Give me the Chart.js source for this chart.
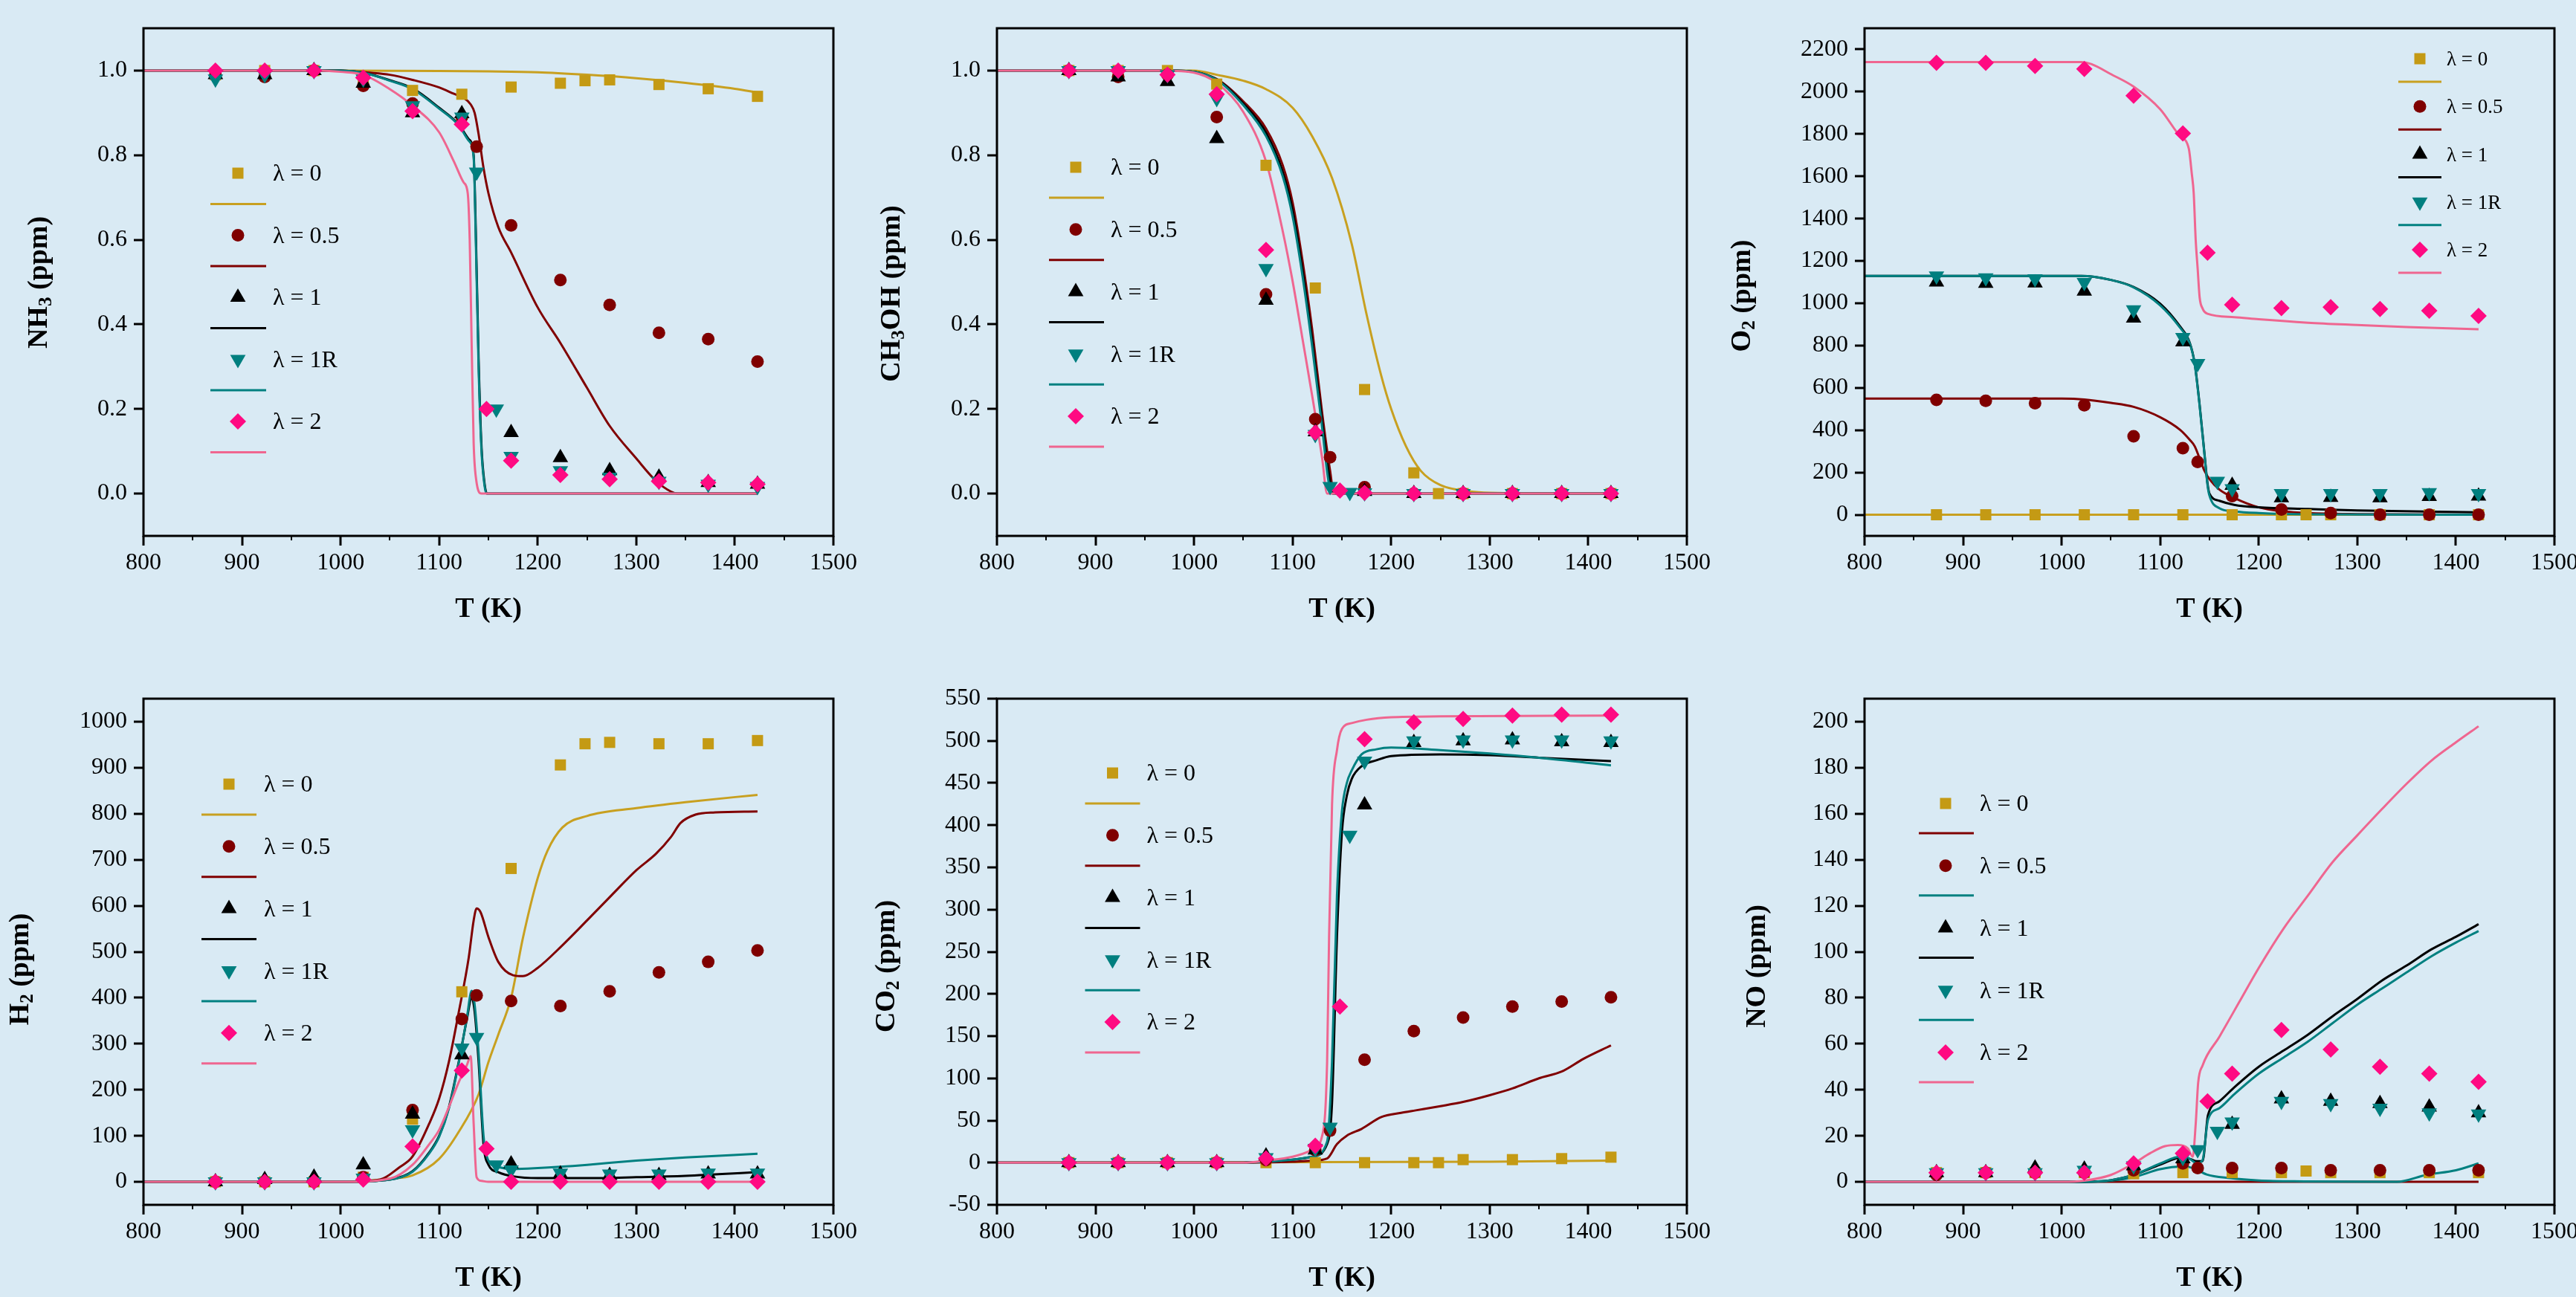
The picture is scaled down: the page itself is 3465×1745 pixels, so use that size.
<!DOCTYPE html>
<html><head><meta charset="utf-8">
<script src="https://cdn.jsdelivr.net/npm/chart.js@4.4.1/dist/chart.umd.min.js"></script>
<style>
html,body{margin:0;padding:0;background:#D9EAF4;width:3465px;height:1745px;overflow:hidden}
.p{position:absolute}
canvas{display:block}
</style></head><body>
<div class="p" style="left:0px;top:0px"><canvas id="c1" width="1161" height="851"></canvas></div>
<div class="p" style="left:1148px;top:0px"><canvas id="c2" width="1161" height="851"></canvas></div>
<div class="p" style="left:2315px;top:0px"><canvas id="c3" width="1161" height="851"></canvas></div>
<div class="p" style="left:0px;top:902px"><canvas id="c4" width="1161" height="849"></canvas></div>
<div class="p" style="left:1148px;top:902px"><canvas id="c5" width="1161" height="849"></canvas></div>
<div class="p" style="left:2315px;top:902px"><canvas id="c6" width="1161" height="849"></canvas></div>
<script>
// ---------------- DATA ----------------
const n = null;
const SERIES = ['λ = 0', 'λ = 0.5', 'λ = 1', 'λ = 1R', 'λ = 2'];
const T_EXP = [873, 923, 973, 1023, 1073, 1123, 1138, 1148, 1158, 1173, 1223, 1248, 1273, 1323, 1373, 1423];
const X_TICKS = [800, 900, 1000, 1100, 1200, 1300, 1400, 1500];

// NH3
const NH3_Y_TICKS = [0, 0.2, 0.4, 0.6, 0.8, 1.0];
const NH3_S0  = [0.99, 1.0, 1.0, 0.97, 0.953, 0.944, n, n, n, 0.961, 0.970, 0.976, 0.978, 0.967, 0.957, 0.939];
const NH3_S05 = [0.99, 0.985, 1.0, 0.964, 0.922, 0.89, 0.82, n, n, 0.634, 0.505, n, 0.446, 0.38, 0.365, 0.312];
const NH3_S1  = [0.99, 0.99, 1.0, 0.97, 0.90, 0.898, n, n, n, 0.144, 0.085, n, 0.054, 0.039, 0.026, 0.022];
const NH3_S1R = [0.98, 0.99, 1.0, 0.98, 0.917, 0.89, 0.76, n, 0.2, 0.088, 0.054, n, 0.039, 0.029, 0.022, 0.017];
const NH3_S2  = [1.0, 1.0, 1.0, 0.983, 0.904, 0.873, n, 0.2, n, 0.078, 0.044, n, 0.034, 0.029, 0.026, 0.022];
const NH3_L0_T  = [800, 1000, 1100, 1150, 1200, 1250, 1300, 1350, 1400, 1423];
const NH3_L0    = [1, 1, 0.999, 0.998, 0.996, 0.99, 0.982, 0.971, 0.957, 0.948];
const NH3_L05_T = [800, 1000, 1030, 1050, 1073, 1100, 1115, 1125, 1132, 1136, 1140, 1145, 1150, 1160, 1173, 1200, 1223, 1250, 1273, 1300, 1320, 1335, 1342, 1423];
const NH3_L05   = [1, 1, 0.995, 0.99, 0.978, 0.96, 0.945, 0.935, 0.92, 0.90, 0.85, 0.77, 0.71, 0.63, 0.57, 0.44, 0.356, 0.25, 0.16, 0.083, 0.03, 0.005, 0, 0];
const NH3_L1_T  = [800, 1000, 1023, 1050, 1073, 1100, 1120, 1130, 1135, 1137, 1140, 1143, 1146, 1148.5, 1423];
const NH3_L1    = [1, 1, 0.995, 0.977, 0.958, 0.912, 0.872, 0.838, 0.80, 0.64, 0.32, 0.11, 0.025, 0, 0];
const NH3_L1R_T = [800, 1000, 1023, 1050, 1073, 1100, 1120, 1130, 1135, 1137, 1140, 1143, 1146, 1148, 1423];
const NH3_L1R   = [1, 1, 0.995, 0.976, 0.956, 0.91, 0.87, 0.834, 0.795, 0.62, 0.3, 0.1, 0.02, 0, 0];
const NH3_L2_T  = [800, 980, 1000, 1023, 1050, 1073, 1100, 1115, 1125, 1129, 1131, 1133, 1135, 1137.5, 1143, 1423];
const NH3_L2    = [1, 1, 0.997, 0.99, 0.956, 0.917, 0.854, 0.785, 0.735, 0.71, 0.6, 0.35, 0.12, 0.034, 0, 0];

// CH3OH
const MEOH_Y_TICKS = [0, 0.2, 0.4, 0.6, 0.8, 1.0];
const MEOH_S0  = [1.0, 1.0, 1.0, 0.968, 0.776, 0.486, n, n, n, 0.246, 0.049, 0.0, 0.0, 0, 0, 0];
const MEOH_S05 = [1.0, 0.985, 0.99, 0.89, 0.471, 0.176, 0.086, n, n, 0.015, 0, n, 0, 0, 0, 0];
const MEOH_S1  = [1.0, 0.985, 0.974, 0.839, 0.457, 0.146, n, n, n, 0.005, 0, n, 0, 0, 0, 0];
const MEOH_S1R = [1.0, 1.0, 0.99, 0.934, 0.532, 0.14, 0.017, n, 0.003, 0.002, 0, n, 0, 0, 0, 0];
const MEOH_S2  = [1.0, 1.0, 0.99, 0.944, 0.576, 0.144, n, 0.007, n, 0.002, 0, n, 0, 0, 0, 0];
const MEOH_L0_T  = [800, 1000, 1023, 1050, 1073, 1100, 1120, 1140, 1160, 1175, 1190, 1200, 1215, 1230, 1250, 1280, 1300, 1423];
const MEOH_L0    = [1, 1, 0.99, 0.976, 0.956, 0.912, 0.844, 0.746, 0.59, 0.424, 0.278, 0.2, 0.112, 0.054, 0.02, 0.005, 0.002, 0];
const MEOH_L05_T = [800, 980, 1023, 1050, 1073, 1090, 1100, 1110, 1120, 1130, 1138, 1142, 1423];
const MEOH_L05   = [1, 1, 0.98, 0.927, 0.863, 0.776, 0.688, 0.551, 0.385, 0.19, 0.054, 0, 0];
const MEOH_L1_T  = [800, 980, 1023, 1050, 1073, 1090, 1100, 1110, 1120, 1130, 1137, 1141, 1423];
const MEOH_L1    = [1, 1, 0.979, 0.922, 0.853, 0.76, 0.67, 0.53, 0.36, 0.17, 0.045, 0, 0];
const MEOH_L1R_T = [800, 980, 1023, 1050, 1073, 1090, 1100, 1110, 1120, 1130, 1136, 1140, 1423];
const MEOH_L1R   = [1, 1, 0.978, 0.918, 0.845, 0.75, 0.655, 0.515, 0.345, 0.155, 0.035, 0, 0];
const MEOH_L2_T  = [800, 970, 1000, 1023, 1050, 1073, 1090, 1100, 1110, 1120, 1130, 1135, 1423];
const MEOH_L2    = [1, 1, 0.995, 0.971, 0.902, 0.785, 0.62, 0.502, 0.366, 0.229, 0.083, 0, 0];

// O2
const O2_Y_TICKS = [0, 200, 400, 600, 800, 1000, 1200, 1400, 1600, 1800, 2000, 2200];
const O2_S0  = [0, 0, 0, 0, 0, 0, n, n, n, 0, 0, 0, 0, 0, 0, 0];
const O2_S05 = [543, 539, 527, 518, 371, 315, 250, n, n, 88, 25, n, 8, 0, 0, 0];
const O2_S1  = [1100, 1094, 1096, 1057, 930, 817, n, n, n, 139, 80, n, 82, 80, 86, 88];
const O2_S1R = [1129, 1120, 1116, 1098, 969, 838, 715, n, 158, 123, 100, n, 100, 100, 105, 100];
const O2_S2  = [2137, 2137, 2122, 2108, 1981, 1803, n, 1239, n, 993, 977, n, 981, 973, 965, 940];
const O2_L0_T  = [800, 1423];
const O2_L0    = [0, 0];
const O2_L05_T = [800, 1000, 1023, 1050, 1073, 1100, 1120, 1130, 1135, 1140, 1145, 1150, 1160, 1175, 1200, 1225, 1250, 1300, 1423];
const O2_L05   = [549, 549, 545, 529, 510, 461, 402, 354, 324, 266, 207, 168, 119, 80, 35, 16, 8, 3, 0];
const O2_L1_T  = [800, 1020, 1050, 1073, 1100, 1120, 1130, 1135, 1140, 1145, 1148, 1150, 1160, 1175, 1200, 1250, 1300, 1423];
const O2_L1    = [1129, 1129, 1110, 1077, 998, 891, 813, 715, 520, 285, 148, 100, 66, 47, 35, 27, 20, 12];
const O2_L1R_T = [800, 1020, 1050, 1073, 1100, 1120, 1130, 1135, 1140, 1145, 1148, 1150, 1160, 1175, 1200, 1250, 1423];
const O2_L1R   = [1129, 1129, 1110, 1075, 990, 885, 810, 712, 515, 280, 140, 90, 31, 16, 8, 2, 0];
const O2_L2_T  = [800, 1020, 1030, 1050, 1073, 1100, 1120, 1129, 1132, 1134, 1136, 1138, 1140, 1143, 1148, 1175, 1200, 1250, 1300, 1350, 1423];
const O2_L2    = [2140, 2140, 2131, 2083, 2024, 1917, 1790, 1731, 1614, 1520, 1300, 1164, 1028, 975, 950, 934, 924, 908, 897, 887, 877];

// H2
const H2_Y_TICKS = [0, 100, 200, 300, 400, 500, 600, 700, 800, 900, 1000];
const H2_S0  = [0, 0, 0, 10, 136, 413, n, n, n, 681, 906, 952, 955, 952, 952, 959];
const H2_S05 = [0, 0, 0, 10, 156, 354, 405, n, n, 393, 382, n, 414, 455, 478, 503];
const H2_S1  = [0, 5, 10, 37, 147, 276, n, n, n, 39, 17, n, 14, 14, 17, 17];
const H2_S1R = [0, 0, 0, 8, 113, 291, 314, n, 37, 26, 19, n, 17, 17, 19, 19];
const H2_S2  = [0, 0, 0, 5, 77, 242, n, 72, n, 0, 0, n, 0, 0, 0, 0];
const H2_L0_T  = [800, 1000, 1050, 1073, 1100, 1120, 1140, 1150, 1160, 1173, 1185, 1200, 1210, 1225, 1250, 1300, 1350, 1423];
const H2_L0    = [0, 0, 7, 14, 50, 109, 190, 260, 320, 400, 530, 660, 720, 770, 795, 812, 825, 841];
const H2_L05_T = [800, 1000, 1040, 1060, 1073, 1090, 1100, 1110, 1120, 1130, 1135, 1138, 1142, 1150, 1160, 1175, 1185, 1200, 1225, 1250, 1275, 1300, 1320, 1335, 1345, 1360, 1380, 1423];
const H2_L05   = [0, 0, 5, 32, 55, 127, 181, 262, 370, 487, 568, 594, 586, 532, 478, 449, 447, 465, 514, 568, 623, 677, 713, 749, 780, 798, 803, 805];
const H2_L1_T  = [800, 1000, 1050, 1073, 1090, 1100, 1110, 1120, 1128, 1133, 1136, 1140, 1145, 1150, 1160, 1175, 1200, 1250, 1300, 1350, 1423];
const H2_L1    = [0, 0, 5, 23, 64, 100, 163, 262, 352, 400, 370, 262, 82, 37, 21, 12, 8, 8, 10, 13, 21];
const H2_L1R_T = [800, 1000, 1050, 1073, 1090, 1100, 1110, 1120, 1128, 1133, 1136, 1140, 1145, 1150, 1160, 1175, 1200, 1250, 1300, 1350, 1423];
const H2_L1R   = [0, 0, 5, 22, 62, 98, 160, 260, 355, 415, 385, 280, 100, 46, 32, 28, 30, 37, 46, 53, 61];
const H2_L2_T  = [800, 1000, 1050, 1073, 1090, 1100, 1110, 1120, 1128, 1132, 1135, 1138, 1143, 1150, 1423];
const H2_L2    = [0, 0, 7, 37, 82, 113, 163, 217, 253, 273, 127, 10, 2, 0, 0];

// CO2
const CO2_Y_TICKS = [-50, 0, 50, 100, 150, 200, 250, 300, 350, 400, 450, 500, 550];
const CO2_S0  = [0, 0, 0, 0, 0, 0, n, n, n, 0, 0, 0, 3.6, 3.6, 4.8, 6.5];
const CO2_S05 = [0, 0, 0, 0, 3, 15, 38, n, n, 122, 156, n, 172, 185, 191, 196];
const CO2_S1  = [0, 0, 0, 0, 8, 15, n, n, n, 424, 498, n, 500, 501, 499, 498];
const CO2_S1R = [0, 0, 0, 0, 6, 17, 42, n, 388, 476, 500, n, 501, 501, 501, 500];
const CO2_S2  = [0, 0, 0, 0, 5, 20, n, 185, n, 502, 522, n, 526, 530, 531, 531];
const CO2_L0_T  = [800, 1300, 1423];
const CO2_L0    = [0, 1, 2.5];
const CO2_L05_T = [800, 1050, 1100, 1120, 1135, 1145, 1155, 1170, 1190, 1210, 1225, 1250, 1273, 1300, 1323, 1350, 1373, 1395, 1423];
const CO2_L05   = [0, 0, 1, 2.5, 5, 22, 32, 40, 54, 59, 62, 67, 72, 80, 88, 100, 108, 123, 139];
const CO2_L1_T  = [800, 1050, 1073, 1100, 1120, 1135, 1140, 1145, 1150, 1155, 1160, 1170, 1185, 1200, 1250, 1300, 1350, 1423];
const CO2_L1    = [0, 0, 1, 3.5, 7, 22, 71, 268, 391, 435, 455, 470, 477, 482, 484, 483, 480, 476];
const CO2_L1R_T = [800, 1050, 1073, 1100, 1120, 1135, 1140, 1145, 1150, 1155, 1160, 1170, 1185, 1200, 1250, 1300, 1350, 1423];
const CO2_L1R   = [0, 0, 1, 3.5, 7, 25, 120, 317, 416, 450, 465, 484, 490, 492, 489, 485, 480, 471];
const CO2_L2_T  = [800, 1050, 1073, 1100, 1120, 1130, 1135, 1137, 1140, 1145, 1150, 1160, 1175, 1200, 1250, 1423];
const CO2_L2    = [0, 0, 2.5, 7, 15, 32, 120, 268, 425, 489, 514, 521, 525, 528, 529, 530];

// NO
const NO_Y_TICKS = [0, 20, 40, 60, 80, 100, 120, 140, 160, 180, 200];
const NO_S0  = [4, 4, 4, 4, 3.5, 4, n, n, n, 4, 4, 4.7, 4, 4, 4, 4];
const NO_S05 = [3, 4, 4, 4, 5, 8, 6, n, n, 6, 6, n, 5, 5, 5, 5];
const NO_S1  = [4, 4, 6, 5.5, 7, 10, n, n, n, 25, 36, n, 35, 34, 32.5, 30];
const NO_S1R = [4, 4, 4, 5, 7, 10.6, 14, n, 22, 26, 35, n, 34, 32, 30, 29.5];
const NO_S2  = [4, 4, 4, 4, 8, 12.4, n, 35, n, 47, 66, n, 57.5, 50, 47, 43.5];
const NO_L0_T  = [800, 1423];
const NO_L0    = [0, 0];
const NO_L05_T = [800, 1020, 1050, 1073, 1100, 1123, 1135, 1147, 1171, 1200, 1246, 1340, 1370, 1400, 1423];
const NO_L05   = [0, 0, 0.5, 2, 5.5, 6.6, 5.8, 3.2, 1.6, 0.6, 0.2, 0, 3, 5, 8];
const NO_L1_T  = [800, 1020, 1050, 1073, 1100, 1121, 1130, 1137, 1143, 1148.5, 1160, 1175, 1200, 1225, 1250, 1275, 1300, 1325, 1350, 1375, 1400, 1423];
const NO_L1    = [0, 0, 0.7, 3, 7.5, 10.5, 10, 9, 9, 29, 35, 41, 50, 57, 64, 72, 79.5, 87.5, 94, 101, 106.5, 112];
const NO_L1R_T = [800, 1020, 1050, 1073, 1100, 1121, 1130, 1137, 1143, 1148.5, 1160, 1175, 1200, 1225, 1250, 1275, 1300, 1325, 1350, 1375, 1400, 1423];
const NO_L1R   = [0, 0, 0.7, 3, 8, 11, 10, 8, 9.5, 27, 32, 38, 47, 54, 61, 69, 77, 84, 91, 98, 104, 109];
const NO_L2_T  = [800, 1000, 1023, 1050, 1073, 1090, 1105, 1118, 1128, 1133, 1136, 1138.5, 1143, 1160, 1180, 1200, 1225, 1250, 1275, 1300, 1325, 1350, 1375, 1400, 1423];
const NO_L2    = [0, 0, 0.5, 3, 8, 12.5, 15.5, 16, 14.5, 10.9, 25, 43, 50.6, 63, 78, 93, 110, 124.5, 139, 150.6, 162, 173, 183, 191, 198];

// ---------------- STYLE ----------------
const GOLD = '#C49A14', DRED = '#7F0000', BLACK = '#000000', TEAL = '#007F7F', PINK = '#FF0A82';
const LGOLD = '#C8A020', LDRED = '#800000', LTEAL = '#008080', LPINK = '#EF6690';
const MARKER_COLORS = [GOLD, DRED, BLACK, TEAL, PINK];
const MARKERS = [
  {pointStyle: 'rect', radius: 10.6, rotation: 0},
  {pointStyle: 'circle', radius: 8.5, rotation: 0},
  {pointStyle: 'triangle', radius: 12, rotation: 0},
  {pointStyle: 'triangle', radius: 12, rotation: 180},
  {pointStyle: 'rectRot', radius: 11, rotation: 0}
];
const LINE_STD = [LGOLD, LDRED, BLACK, LTEAL, LPINK];
const LINE_NO = [LDRED, LTEAL, BLACK, LTEAL, LPINK];
const SERIF = '"Liberation Serif", "Times New Roman", serif';

function pts(xs, ys) {
  const out = [];
  for (let i = 0; i < xs.length; i++) if (ys[i] !== null) out.push({x: xs[i], y: ys[i]});
  return out;
}

const decor = {
  id: 'decor',
  afterDraw(chart, args, o) {
    const ctx = chart.ctx, a = chart.chartArea, xs = chart.scales.x;
    ctx.save();
    ctx.strokeStyle = '#000';
    ctx.lineWidth = 2;
    for (let v = 850; v < 1500; v += 100) {
      const px = Math.round(xs.getPixelForValue(v));
      ctx.beginPath(); ctx.moveTo(px, a.bottom); ctx.lineTo(px, a.bottom + 6); ctx.stroke();
    }
    ctx.lineWidth = 3;
    ctx.strokeRect(a.left, a.top, a.right - a.left, a.bottom - a.top);
    ctx.fillStyle = '#000';
    ctx.font = 'bold 38px ' + SERIF;
    ctx.textAlign = 'center'; ctx.textBaseline = 'middle';
    ctx.fillText('T (K)', (a.left + a.right) / 2, a.bottom + 99);
    // y title
    ctx.save();
    ctx.translate(o.titleX, o.titleY);
    ctx.rotate(-Math.PI / 2);
    const big = 'bold 38px ' + SERIF, small = 'bold 25px ' + SERIF;
    let total = 0;
    for (const [t, s] of o.title) { ctx.font = s ? small : big; total += ctx.measureText(t).width; }
    let x = -total / 2;
    ctx.textAlign = 'left'; ctx.textBaseline = 'middle';
    for (const [t, s] of o.title) { ctx.font = s ? small : big; ctx.fillText(t, x, s ? 10 : 0); x += ctx.measureText(t).width; }
    ctx.restore();
    // legend
    const L = o.legend;
    for (let i = 0; i < 5; i++) {
      const mx = a.left + L.mx, my = a.top + L.my + i * L.dy;
      ctx.fillStyle = MARKER_COLORS[i];
      Chart.helpers.drawPoint(ctx, {pointStyle: MARKERS[i].pointStyle, radius: MARKERS[i].radius, rotation: MARKERS[i].rotation, borderWidth: 0}, mx, my);
      ctx.fillStyle = '#000';
      ctx.font = L.fs + 'px ' + SERIF;
      ctx.textAlign = 'left'; ctx.textBaseline = 'middle';
      ctx.fillText(SERIES[i], mx + L.tx, my + 2);
      ctx.strokeStyle = o.lineColors[i]; ctx.lineWidth = 3;
      ctx.beginPath(); ctx.moveTo(mx - L.l1, my + L.ly); ctx.lineTo(mx + L.l2, my + L.ly); ctx.stroke();
    }
    ctx.restore();
  }
};

const PANELS = [
  {id: 'c1', h: 851, plotH: 683, yMin: -0.1, yMax: 1.1, yTicks: NH3_Y_TICKS, dec: 1,
   title: [['NH', 0], ['3', 1], [' (ppm)', 0]], titleX: 53, titleY: 380,
   scatter: [NH3_S0, NH3_S05, NH3_S1, NH3_S1R, NH3_S2],
   lines: [[NH3_L0_T, NH3_L0], [NH3_L05_T, NH3_L05], [NH3_L1_T, NH3_L1], [NH3_L1R_T, NH3_L1R], [NH3_L2_T, NH3_L2]],
   lineColors: LINE_STD, legend: {mx: 127, my: 195, dy: 83.5, tx: 47, ly: 41.5, l1: 37, l2: 38, fs: 32}},
  {id: 'c2', h: 851, plotH: 683, yMin: -0.1, yMax: 1.1, yTicks: MEOH_Y_TICKS, dec: 1,
   title: [['CH', 0], ['3', 1], ['OH (ppm)', 0]], titleX: 52, titleY: 395,
   scatter: [MEOH_S0, MEOH_S05, MEOH_S1, MEOH_S1R, MEOH_S2],
   lines: [[MEOH_L0_T, MEOH_L0], [MEOH_L05_T, MEOH_L05], [MEOH_L1_T, MEOH_L1], [MEOH_L1R_T, MEOH_L1R], [MEOH_L2_T, MEOH_L2]],
   lineColors: LINE_STD, legend: {mx: 106, my: 187, dy: 83.75, tx: 47, ly: 41, l1: 36, l2: 38, fs: 32}},
  {id: 'c3', h: 851, plotH: 683, yMin: -100, yMax: 2300, yTicks: O2_Y_TICKS, dec: 0,
   title: [['O', 0], ['2', 1], [' (ppm)', 0]], titleX: 29, titleY: 398,
   scatter: [O2_S0, O2_S05, O2_S1, O2_S1R, O2_S2],
   lines: [[O2_L0_T, O2_L0], [O2_L05_T, O2_L05], [O2_L1_T, O2_L1], [O2_L1R_T, O2_L1R], [O2_L2_T, O2_L2]],
   lineColors: LINE_STD, legend: {mx: 747, my: 41, dy: 64.25, tx: 36, ly: 31, l1: 29, l2: 29, fs: 27}},
  {id: 'c4', h: 849, plotH: 681, yMin: -50, yMax: 1050, yTicks: H2_Y_TICKS, dec: 0,
   title: [['H', 0], ['2', 1], [' (ppm)', 0]], titleX: 28, titleY: 402,
   scatter: [H2_S0, H2_S05, H2_S1, H2_S1R, H2_S2],
   lines: [[H2_L0_T, H2_L0], [H2_L05_T, H2_L05], [H2_L1_T, H2_L1], [H2_L1R_T, H2_L1R], [H2_L2_T, H2_L2]],
   lineColors: LINE_STD, legend: {mx: 115, my: 115, dy: 83.7, tx: 47, ly: 41, l1: 37, l2: 37, fs: 32}},
  {id: 'c5', h: 849, plotH: 681, yMin: -50, yMax: 550, yTicks: CO2_Y_TICKS, dec: 0,
   title: [['CO', 0], ['2', 1], [' (ppm)', 0]], titleX: 45, titleY: 398,
   scatter: [CO2_S0, CO2_S05, CO2_S1, CO2_S1R, CO2_S2],
   lines: [[CO2_L0_T, CO2_L0], [CO2_L05_T, CO2_L05], [CO2_L1_T, CO2_L1], [CO2_L1R_T, CO2_L1R], [CO2_L2_T, CO2_L2]],
   lineColors: LINE_STD, legend: {mx: 155.5, my: 100, dy: 83.75, tx: 46, ly: 41, l1: 37, l2: 37, fs: 32}},
  {id: 'c6', h: 849, plotH: 681, yMin: -10, yMax: 210, yTicks: NO_Y_TICKS, dec: 0,
   title: [['NO (ppm)', 0]], titleX: 49, titleY: 398,
   scatter: [NO_S0, NO_S05, NO_S1, NO_S1R, NO_S2],
   lines: [[NO_L0_T, NO_L0], [NO_L05_T, NO_L05], [NO_L1_T, NO_L1], [NO_L1R_T, NO_L1R], [NO_L2_T, NO_L2]],
   lineColors: LINE_NO, legend: {mx: 109, my: 141, dy: 83.75, tx: 46, ly: 40, l1: 36, l2: 38, fs: 32}}
];

function build(p) {
  const datasets = [];
  p.lines.forEach((ln, i) => datasets.push({
    label: SERIES[i] + ' model', data: pts(ln[0], ln[1]), showLine: true,
    borderColor: p.lineColors[i], borderWidth: 3, pointRadius: 0, pointHoverRadius: 0,
    cubicInterpolationMode: 'monotone', fill: false, order: 20 - i
  }));
  p.scatter.forEach((ys, i) => datasets.push({
    label: SERIES[i], data: pts(T_EXP, ys), showLine: false,
    backgroundColor: MARKER_COLORS[i], borderWidth: 0,
    pointStyle: MARKERS[i].pointStyle, pointRadius: MARKERS[i].radius,
    pointRotation: MARKERS[i].rotation, pointHoverRadius: MARKERS[i].radius, order: 5 - i
  }));
  const gridOpts = {display: true, drawOnChartArea: false, drawTicks: true, tickLength: 13,
    tickWidth: 3, tickColor: '#000', color: '#000', lineWidth: 0};
  new Chart(document.getElementById(p.id), {
    type: 'scatter',
    data: {datasets},
    plugins: [decor],
    options: {
      responsive: false, animation: false, devicePixelRatio: 1, events: [],
      layout: {padding: {left: 0, right: 40, top: 38, bottom: 0}, autoPadding: false},
      plugins: {legend: {display: false}, tooltip: {enabled: false},
        decor: {title: p.title, titleX: p.titleX, titleY: p.titleY, legend: p.legend, lineColors: p.lineColors}},
      scales: {
        x: {type: 'linear', min: 800, max: 1500,
          afterBuildTicks: s => { s.ticks = X_TICKS.map(v => ({value: v})); },
          afterFit: s => { s.height = p.h - 38 - p.plotH; },
          grid: gridOpts, border: {display: false},
          ticks: {color: '#000', font: {family: SERIF, size: 32}, padding: 4, maxRotation: 0, autoSkip: false,
            callback: v => String(v)}},
        y: {type: 'linear', min: p.yMin, max: p.yMax,
          afterBuildTicks: s => { s.ticks = p.yTicks.map(v => ({value: v})); },
          afterFit: s => { s.width = 193; },
          grid: gridOpts, border: {display: false},
          ticks: {color: '#000', font: {family: SERIF, size: 32}, padding: 9, autoSkip: false,
            callback: v => p.dec ? v.toFixed(1) : String(v)}}
      }
    }
  });
}
PANELS.forEach(build);
</script>
</body></html>
